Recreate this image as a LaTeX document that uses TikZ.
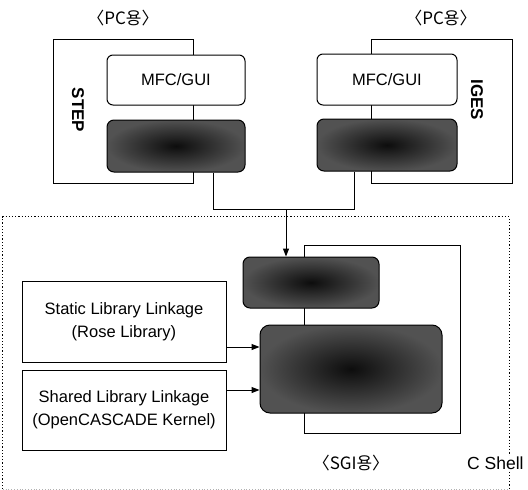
\documentclass[tikz,border=0pt]{standalone}
\usepackage{fontspec}
\setmainfont{Liberation Sans}
\newfontfamily\kr{Noto Sans CJK KR}
\usetikzlibrary{arrows.meta}
\tikzset{
  cont/.style={draw, rectangle, inner sep=0pt, line width=1pt},
  whitebox/.style={draw, fill=white, rounded corners=6pt, inner sep=0pt, line width=1pt, font=\fontsize{16.5}{18}\selectfont},
  darkbox/.style={draw, rounded corners=7pt, inner sep=0pt, line width=1pt, shade, shading=radial, inner color=black!95, outer color=black!68},
  libbox/.style={draw, fill=white, rectangle, inner sep=0pt, line width=1pt, align=center, font=\fontsize{16.5}{23}\selectfont},
  krlabel/.style={font=\kr\fontsize{17}{19}\selectfont, inner sep=0pt},
  vlabel/.style={font=\bfseries\fontsize{17}{19}\selectfont, rotate=-90, inner sep=0pt},
  conn/.style={line width=1pt},
  arr/.style={line width=1pt, -{Triangle[length=8pt,width=6pt]}}
}
\begin{document}
\begin{tikzpicture}[x=1pt,y=-1pt]
\useasboundingbox (0,0) rectangle (528,490);
% top left
\node[krlabel] (pcL) at (123,18) {〈PC용〉};
\node[cont, minimum width=140pt, minimum height=144pt] (stepc) at (123,111) {};
\node[whitebox, minimum width=138pt, minimum height=50pt] (mfcL) at (176,80) {MFC/GUI};
\node[darkbox, minimum width=138pt, minimum height=52pt] (darkL) at (176,146) {};
\node[vlabel] (stepl) at (78,110) {STEP};
% top right
\node[krlabel] (pcR) at (441,18) {〈PC용〉};
\node[cont, minimum width=141pt, minimum height=144pt] (igesc) at (441.5,111) {};
\node[whitebox, minimum width=140pt, minimum height=51pt] (mfcR) at (387,79.5) {MFC/GUI};
\node[darkbox, minimum width=140pt, minimum height=52pt] (darkR) at (387,145) {};
\node[vlabel] (igesl) at (477,100) {IGES};
% dotted shell region
\node[minimum width=506pt, minimum height=272pt, inner sep=0pt] (shell) at (256,353) {};
\draw[dotted, line width=1.2pt] (shell.south west) -- (shell.north west) -- (shell.north east) -- (shell.south east);
\draw[dotted, line width=0.8pt, black!30] (shell.south west) -- (shell.south east);
% SGI
\node[cont, minimum width=156pt, minimum height=188pt] (sgic) at (382,339) {};
\node[darkbox, minimum width=136pt, minimum height=51pt] (darkS) at (311,282.5) {};
\node[darkbox, rounded corners=10pt, minimum width=182pt, minimum height=88pt] (darkB) at (351,369) {};
\node[libbox, minimum width=204pt, minimum height=81pt] (static) at (124,321.5) {Static Library Linkage\\(Rose Library)};
\node[libbox, minimum width=204pt, minimum height=80pt] (shared) at (124,410) {Shared Library Linkage\\(OpenCASCADE Kernel)};
% connectors
\coordinate (j) at (286,209);
\coordinate (cl) at (213,0);
\coordinate (cr) at (354,0);
\draw[conn] (darkL.south -| cl) |- (j);
\draw[conn] (darkR.south -| cr) |- (j);
\draw[arr] (j) -- (darkS.north -| j);
\coordinate (a1) at (0,347);
\coordinate (a2) at (0,390);
\draw[arr] (static.east |- a1) -- (darkB.west |- a1);
\draw[arr] (shared.east |- a2) -- (darkB.west |- a2);
% bottom labels
\node[krlabel] (sgil) at (351,463) {〈SGI용〉};
\node[fill=white, anchor=west, inner sep=1pt, font=\fontsize{17.5}{19}\selectfont] (cshell) at (466,463) {C Shell};
\end{tikzpicture}
\end{document}
